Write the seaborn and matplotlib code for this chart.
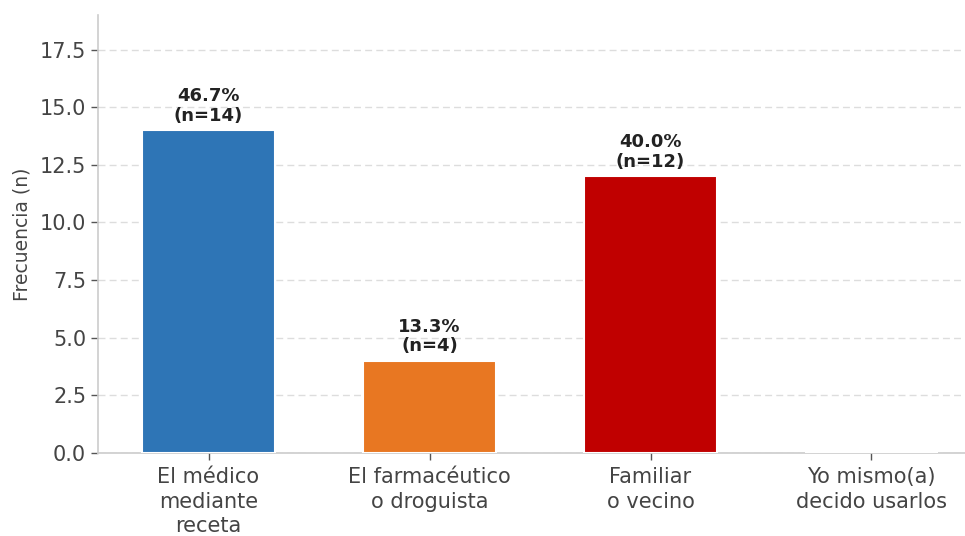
import matplotlib
matplotlib.use("Agg")
import matplotlib.pyplot as plt
import seaborn as sns
import pandas as pd

# Who recommended the use of the medication
categories = ["El médico\nmediante\nreceta",
              "El farmacéutico\no droguista",
              "Familiar\no vecino",
              "Yo mismo(a)\ndecido usarlos"]
counts = [14, 4, 12, 0]
colors = ["#2E75B6", "#E87722", "#C00000", "#7F7F7F"]
y_ticks = [0.0, 2.5, 5.0, 7.5, 10.0, 12.5, 15.0, 17.5]

total = sum(counts)
df = pd.DataFrame({"categoria": categories, "n": counts})

sns.set_theme(style="white")
plt.rcParams["font.family"] = ["DejaVu Sans"]

fig = plt.figure(figsize=(9.65, 5.36), dpi=100)
ax = fig.add_axes([0.1016, 0.1549, 0.916, 0.8171])

sns.barplot(data=df, x="categoria", y="n", hue="categoria",
            palette=colors, saturation=1, legend=False, width=0.6,
            edgecolor="white", linewidth=1.5, ax=ax, zorder=3)

ax.set_xlim(-0.5, 3.5)
ax.set_ylim(0, 19)
ax.set_yticks(y_ticks)
ax.set_yticklabels([f"{t:.1f}" for t in y_ticks])

ax.yaxis.grid(True, linestyle=(0, (5, 3)), color="#dddddd", linewidth=1, zorder=0)
ax.xaxis.grid(False)
ax.set_axisbelow(True)

for side in ["top", "right"]:
    ax.spines[side].set_visible(False)
for side in ["left", "bottom"]:
    ax.spines[side].set_color("#cccccc")
    ax.spines[side].set_linewidth(1.2)

ax.tick_params(axis="both", colors="#555555", labelcolor="#444444",
               labelsize=15, length=5, width=1, left=True, bottom=True)
ax.tick_params(axis="x", pad=5)
for lbl in ax.get_xticklabels():
    lbl.set_linespacing(1.3)
ax.set_xlabel("")
ax.set_ylabel("Frecuencia (n)", fontsize=13.5, color="#444444", labelpad=6)

for i, n in enumerate(counts):
    if n > 0:
        pct = n / total * 100
        ax.annotate(f"{pct:.1f}%\n(n={n})", xy=(i, n), xytext=(0, 4),
                    textcoords="offset points", ha="center", va="bottom",
                    fontsize=13, fontweight="bold", color="#222222",
                    linespacing=1.1)

fig.savefig("out.png", dpi=100)
